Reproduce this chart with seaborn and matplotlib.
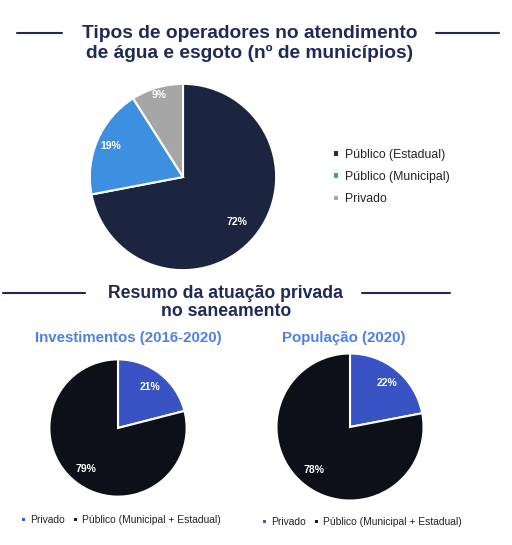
import matplotlib

matplotlib.use("Agg")
import matplotlib.pyplot as plt
import numpy as np
import seaborn as sns
from matplotlib.lines import Line2D

sns.set_style("white")
plt.rcParams["font.family"] = ["Liberation Sans", "DejaVu Sans"]

# data
op_labels = ["Público (Estadual)", "Público (Municipal)", "Privado"]
op_values = [72, 19, 9]
op_colors = ["#1b2540", "#3d8fe0", "#a6a6a6"]

priv_labels = ["Privado", "Público (Municipal + Estadual)"]
invest_values = [21, 79]
pop_values = [22, 78]
priv_colors = ["#3953c4", "#0e1019"]

W, H = 512, 545
NAVY = "#1e2b58"
SUB = "#4d7fe6"

fig = plt.figure(figsize=(W / 100, H / 100), dpi=100)
fig.patch.set_facecolor("white")


def pie_axes(cx, cy, r):
    return fig.add_axes([(cx - r) / W, (H - cy - r) / H, 2 * r / W, 2 * r / H])


def draw_pie(ax, values, colors, dists):
    wedges, _, autotexts = ax.pie(
        values,
        colors=colors,
        startangle=90,
        counterclock=False,
        autopct="%d%%",
        wedgeprops=dict(edgecolor="white", linewidth=1.5),
        textprops=dict(color="white", fontsize=7.5, fontweight="bold"),
    )
    # label distance per wedge, as in the original layout
    for w, t, d in zip(wedges, autotexts, dists):
        ang = np.deg2rad((w.theta1 + w.theta2) / 2)
        t.set_position((d * np.cos(ang), d * np.sin(ang)))
    ax.set_xlim(-1.02, 1.02)
    ax.set_ylim(-1.02, 1.02)
    ax.axis("off")
    return wedges


def hline(x0, x1, y):
    fig.add_artist(Line2D([x0 / W, x1 / W], [1 - y / H, 1 - y / H], color=NAVY, lw=1.5))


# top chart
fig.text(250 / W, 1 - 33 / H, "Tipos de operadores no atendimento", ha="center", va="center",
         fontsize=13.8, fontweight="bold", color=NAVY)
fig.text(250 / W, 1 - 53 / H, "de água e esgoto (nº de municípios)", ha="center", va="center",
         fontsize=13.8, fontweight="bold", color=NAVY)
hline(17, 62, 33)
hline(436, 499, 33)

ax_top = pie_axes(183, 177, 95)
w_top = draw_pie(ax_top, op_values, op_colors, [0.75, 0.84, 0.92])
fig.legend(w_top, op_labels, loc="center left", bbox_to_anchor=(322 / W, 1 - 177 / H),
           frameon=False, fontsize=8.8, handlelength=0.45, handleheight=0.45, handletextpad=0.5,
           labelspacing=0.85, labelcolor="#222222")

# bottom section
fig.text(226 / W, 1 - 293 / H, "Resumo da atuação privada", ha="center", va="center",
         fontsize=12.7, fontweight="bold", color=NAVY)
fig.text(226 / W, 1 - 312 / H, "no saneamento", ha="center", va="center",
         fontsize=12.7, fontweight="bold", color=NAVY)
hline(3, 85, 293)
hline(362, 450, 293)

fig.text(128 / W, 1 - 338 / H, "Investimentos (2016-2020)", ha="center", va="center",
         fontsize=10.8, fontweight="bold", color=SUB)
fig.text(344 / W, 1 - 338 / H, "População (2020)", ha="center", va="center",
         fontsize=10.8, fontweight="bold", color=SUB)

ax_inv = pie_axes(118, 428, 70)
w_inv = draw_pie(ax_inv, invest_values, priv_colors, [0.75, 0.76])
ax_pop = pie_axes(350, 427, 75)
w_pop = draw_pie(ax_pop, pop_values, priv_colors, [0.78, 0.76])

for wedges, x, y in [(w_inv, 12, 520), (w_pop, 253, 522)]:
    fig.legend(wedges, priv_labels, loc="center left", bbox_to_anchor=(x / W, 1 - y / H),
               frameon=False, fontsize=7.4, ncol=2, handlelength=0.45, handleheight=0.45,
               handletextpad=0.4, columnspacing=0.8, labelcolor="#222222")

fig.savefig("out.png", dpi=100, facecolor="white")
plt.close(fig)
